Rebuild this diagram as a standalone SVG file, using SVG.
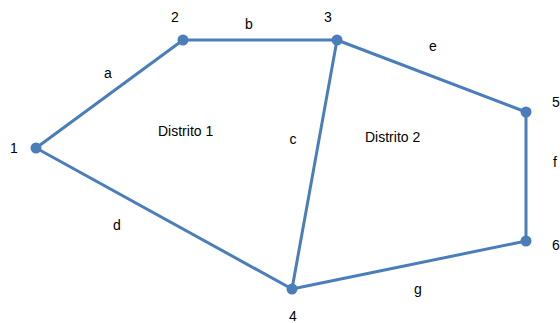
<svg xmlns="http://www.w3.org/2000/svg" width="560" height="323" viewBox="0 0 560 323">
<style>
.e{stroke:#4a7ebb;stroke-width:3;fill:none;stroke-linecap:round}
.n{fill:#4a7ebb}
.t{font-family:"Liberation Sans",Arial,sans-serif;font-size:14px;fill:#000;text-anchor:middle}
.d{font-family:"Liberation Sans",Arial,sans-serif;font-size:14px;fill:#000}
</style>
<rect width="560" height="323" fill="#fff"/>
<g id="edges">
<line class="e" x1="36" y1="148" x2="183" y2="40"/>
<line class="e" x1="183" y1="40" x2="337" y2="40"/>
<line class="e" x1="337" y1="40" x2="526" y2="112"/>
<line class="e" x1="526" y1="112" x2="526" y2="241"/>
<line class="e" x1="526" y1="241" x2="292" y2="289"/>
<line class="e" x1="337" y1="40" x2="292" y2="289"/>
<line class="e" x1="36" y1="148" x2="292" y2="289"/>
<text class="t" x="108" y="78">a</text>
<text class="t" x="249" y="29">b</text>
<text class="t" x="433" y="51">e</text>
<text class="t" x="293" y="144">c</text>
<text class="t" x="117" y="230">d</text>
<text class="t" x="418" y="294">g</text>
<text class="t" x="555" y="167">f</text>
</g>
<g id="n1"><circle class="n" cx="36" cy="148" r="5.5"/><text class="t" x="14" y="153">1</text></g>
<g id="n2"><circle class="n" cx="183" cy="40" r="5.5"/><text class="t" x="175" y="22">2</text></g>
<g id="n3"><circle class="n" cx="337" cy="40" r="5.5"/><text class="t" x="328" y="22">3</text></g>
<g id="n5"><circle class="n" cx="526" cy="112" r="5.5"/><text class="t" x="556" y="107">5</text></g>
<g id="n6"><circle class="n" cx="526" cy="241" r="5.5"/><text class="t" x="556" y="250">6</text></g>
<g id="n4"><circle class="n" cx="292" cy="289" r="5.5"/><text class="t" x="293" y="321">4</text></g>
<g id="d1"><text class="d" x="158" y="136">Distrito 1</text></g>
<g id="d2"><text class="d" x="365" y="142">Distrito 2</text></g>
</svg>
